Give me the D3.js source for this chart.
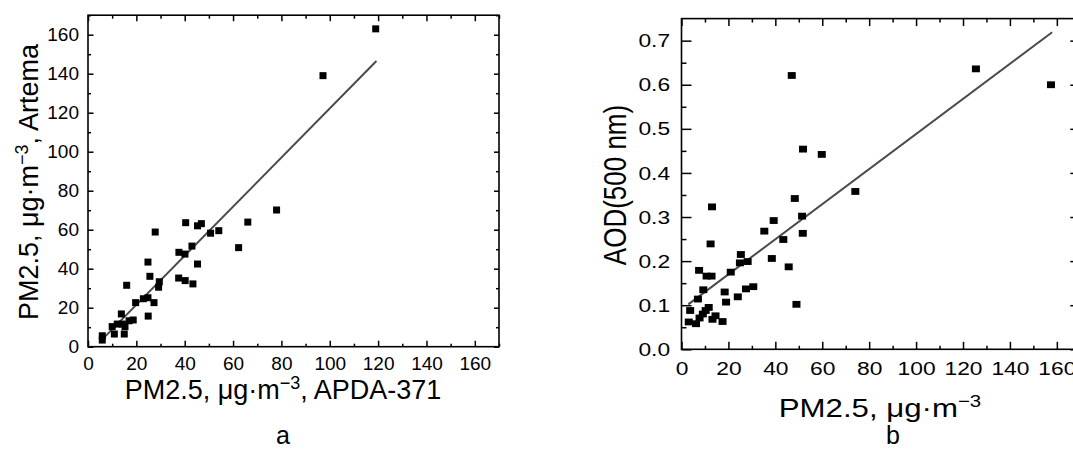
<!DOCTYPE html>
<html>
<head>
<meta charset="utf-8">
<script src="https://cdn.jsdelivr.net/npm/d3@7"></script>
<style>
  html, body { margin: 0; padding: 0; background: #fff; }
  svg { display: block; }
  text { font-family: "Liberation Sans", Arial, sans-serif; fill: #000; }
</style>
</head>
<body>
<svg id="chart" width="1073" height="452"></svg>
<script>
// ---------- Panel a data ----------
const aX = [119, 97.2, 78, 66.1, 62.3, 54.1, 50.7, 46.9, 45.3, 40.4, 43, 37.6, 40.1, 45.3, 37.5, 40.2, 43.4,
            27.8, 24.8, 25.6, 29.5, 29.2, 27.3, 24.8, 22.9, 24.9, 19.7, 16, 13.8, 18.7, 17, 15.3, 12.1, 10,
            10.9, 15, 14.2, 5.9, 5.9];
const aY = [163, 139, 70.1, 63.9, 50.8, 59.5, 58.2, 63.1, 62, 63.6, 51.6, 48.4, 47.5, 42.4, 35.2, 33.9, 32.2,
            58.8, 43.4, 36.1, 33.3, 30.5, 22.6, 25.1, 24.6, 15.7, 22.6, 31.5, 16.8, 13.7, 13.3, 10.3, 11.6, 10.3,
            6.5, 6.5, 11.6, 5.6, 3.4];
const fitAX = [5, 119.3];
const fitAY = [2.6, 146.5];
const aTicks = [0, 20, 40, 60, 80, 100, 120, 140, 160];
const aMinor = [10, 30, 50, 70, 90, 110, 130, 150, 170];

// ---------- Panel b data ----------
const bX = [125.5, 157.5, 47, 51.8, 59.8, 74.1, 48.3, 51.4, 51.7, 39.3, 35.3, 43.4, 38.5, 45.7, 49, 25.3, 24.9,
            28.2, 21, 13, 12.4, 7.5, 10.7, 12.8, 9.3, 7, 18.4, 19, 24, 27.5, 30.6, 3.7, 3.1, 6.2, 7.7, 9.1,
            10.3, 11.6, 13.2, 14.5, 17.5];
const bY = [0.636, 0.600, 0.621, 0.454, 0.442, 0.358, 0.342, 0.302, 0.263, 0.292, 0.268, 0.249, 0.206, 0.187,
            0.102, 0.215, 0.196, 0.199, 0.175, 0.323, 0.239, 0.179, 0.166, 0.166, 0.135, 0.114, 0.13, 0.107,
            0.119, 0.137, 0.142, 0.088, 0.062, 0.058, 0.071, 0.08, 0.088, 0.095, 0.068, 0.076, 0.063];
const fitBX = [2.9, 158];
const fitBY = [0.102, 0.719];
const bXTicks = [0, 20, 40, 60, 80, 100, 120, 140, 160];
const bXMinor = [10, 30, 50, 70, 90, 110, 130, 150];
const bYTicks = [0.0, 0.1, 0.2, 0.3, 0.4, 0.5, 0.6, 0.7];
const bYMinor = [0.05, 0.15, 0.25, 0.35, 0.45, 0.55, 0.65];

const svg = d3.select("#chart");

// ================= Panel a =================
const xa = d3.scaleLinear().domain([0, 170]).range([88, 499]);
const ya = d3.scaleLinear().domain([0, 170]).range([346.7, 15.2]);
const ga = svg.append("g");

function drawAxes(g, x, y, o) {
  const [x0, x1] = x.range(), [y0, y1] = y.range();
  // minor ticks
  g.append("g").attr("transform", `translate(0,${y0})`)
    .call(d3.axisBottom(x).tickValues(o.xMinor).tickSize(-o.minB).tickFormat(""));
  g.append("g").attr("transform", `translate(0,${y1})`)
    .call(d3.axisTop(x).tickValues(o.xMinor).tickSize(-o.minT).tickFormat(""));
  g.append("g").attr("transform", `translate(${x0},0)`)
    .call(d3.axisLeft(y).tickValues(o.yMinor).tickSize(-o.minL).tickFormat(""));
  g.append("g").attr("transform", `translate(${x1},0)`)
    .call(d3.axisRight(y).tickValues(o.yMinor).tickSize(-o.minR).tickFormat(""));
  // major ticks
  const bottom = g.append("g").attr("class", "xaxis").attr("transform", `translate(0,${y0})`)
    .call(d3.axisBottom(x).tickValues(o.xTicks).tickSize(-o.majB).tickPadding(o.padB).tickFormat(o.xFmt));
  g.append("g").attr("transform", `translate(0,${y1})`)
    .call(d3.axisTop(x).tickValues(o.xTicks).tickSize(-o.majT).tickFormat(""));
  const left = g.append("g").attr("class", "yaxis").attr("transform", `translate(${x0},0)`)
    .call(d3.axisLeft(y).tickValues(o.yTicks).tickSize(-o.majL).tickPadding(o.padL).tickFormat(o.yFmt));
  g.append("g").attr("transform", `translate(${x1},0)`)
    .call(d3.axisRight(y).tickValues(o.yTicks).tickSize(-o.majR).tickFormat(""));
  g.selectAll(".domain").remove();
  g.selectAll(".tick line").attr("stroke", "#000").attr("stroke-width", 1.5);
  g.selectAll(".tick text").attr("font-size", o.fs).attr("font-family", '"Liberation Sans", Arial, sans-serif').attr("fill", "#000");
  // frame
  g.append("rect").attr("x", x0).attr("y", y1).attr("width", x1 - x0).attr("height", y0 - y1)
    .attr("fill", "none").attr("stroke", "#000").attr("stroke-width", 1.6);
  return { bottom, left };
}

drawAxes(ga, xa, ya, {
  xTicks: aTicks, xMinor: aMinor, yTicks: aTicks, yMinor: aMinor,
  majB: 6, minB: 3, majT: 6, minT: 3.5, majL: 5.5, minL: 3, majR: 5, minR: 3,
  padB: 10, padL: 9, fs: 19, xFmt: d3.format("d"), yFmt: d3.format("d")
});

ga.append("line")
  .attr("x1", xa(fitAX[0])).attr("y1", ya(fitAY[0]))
  .attr("x2", xa(fitAX[1])).attr("y2", ya(fitAY[1]))
  .attr("stroke", "#4a4a4a").attr("stroke-width", 2);

ga.selectAll("rect.pt").data(aX.map((v, i) => [v, aY[i]])).join("rect")
  .attr("class", "pt")
  .attr("x", d => xa(d[0]) - 3.5).attr("y", d => ya(d[1]) - 3.5)
  .attr("width", 7).attr("height", 7).attr("fill", "#000");

// axis titles a
const yLabA = ga.append("text")
  .attr("transform", "translate(38,182) rotate(-90)")
  .attr("text-anchor", "middle").attr("font-size", 27);
yLabA.append("tspan").text("PM2.5, μg·m");
yLabA.append("tspan").attr("dy", -10).attr("font-size", 18).text("−3");
yLabA.append("tspan").attr("dy", 10).text(", Artema");

const xLabA = ga.append("text")
  .attr("x", 283).attr("y", 399)
  .attr("text-anchor", "middle").attr("font-size", 27);
xLabA.append("tspan").text("PM2.5, μg·m");
xLabA.append("tspan").attr("dy", -10).attr("font-size", 18).text("−3");
xLabA.append("tspan").attr("dy", 10).text(", APDA-371");

ga.append("text").attr("x", 283).attr("y", 444).attr("text-anchor", "middle")
  .attr("font-family", '"Liberation Serif", "Times New Roman", serif').attr("font-size", 25).text("a");

// ================= Panel b =================
const xb = d3.scaleLinear().domain([0, 170]).range([681.5, 1080.3]);
const yb = d3.scaleLinear().domain([0, 0.75]).range([349.3, 18.6]);
const gb = svg.append("g");

const axB = drawAxes(gb, xb, yb, {
  xTicks: bXTicks, xMinor: bXMinor, yTicks: bYTicks, yMinor: bYMinor,
  majB: 7.5, minB: 3.5, majT: 7.5, minT: 4, majL: 10, minL: 5, majR: 10, minR: 5,
  padB: 12.5, padL: 9.5, fs: 19, xFmt: d3.format("d"), yFmt: d3.format(".1f")
});
// horizontally stretched text in panel b
gb.selectAll(".tick text").attr("transform", function () {
  return "scale(1.2,1)";
});

gb.append("line")
  .attr("x1", xb(fitBX[0])).attr("y1", yb(fitBY[0]))
  .attr("x2", xb(fitBX[1])).attr("y2", yb(fitBY[1]))
  .attr("stroke", "#4a4a4a").attr("stroke-width", 2);

gb.selectAll("rect.pt").data(bX.map((v, i) => [v, bY[i]])).join("rect")
  .attr("class", "pt")
  .attr("x", d => xb(d[0]) - 4).attr("y", d => yb(d[1]) - 3.4)
  .attr("width", 8).attr("height", 6.8).attr("fill", "#000");

const yLabB = gb.append("text")
  .attr("transform", "translate(626,185) scale(1.2,1) rotate(-90)")
  .attr("text-anchor", "middle").attr("font-size", 26).text("AOD(500 nm)");

const xLabB = gb.append("text")
  .attr("transform", "translate(880,417) scale(1.2,1)")
  .attr("text-anchor", "middle").attr("font-size", 26);
xLabB.append("tspan").text("PM2.5, μg·m");
xLabB.append("tspan").attr("dy", -10).attr("font-size", 17).text("−3");

gb.append("text").attr("x", 893).attr("y", 444).attr("text-anchor", "middle")
  .attr("font-family", '"Liberation Serif", "Times New Roman", serif').attr("font-size", 25).text("b");
</script>
</body>
</html>
